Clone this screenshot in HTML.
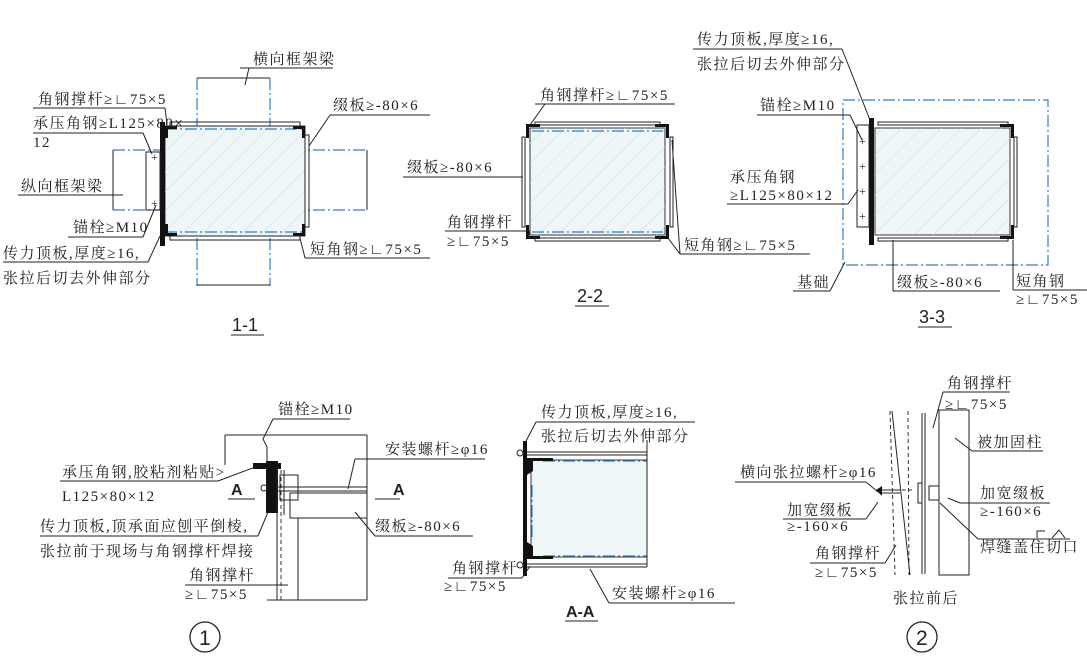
<!DOCTYPE html>
<html><head><meta charset="utf-8"><style>
body{margin:0;background:#fff}
svg{display:block}
text{font-family:"Liberation Serif","Noto Serif CJK SC",serif;font-size:15px;fill:#222;letter-spacing:1.5px}
text.t{font-family:"Liberation Sans",sans-serif;font-size:18px;letter-spacing:0}
text.a{font-family:"Liberation Sans",sans-serif;font-size:16px;font-weight:bold;letter-spacing:0}
text.p{font-size:12px;letter-spacing:0}
text.n{font-family:"Liberation Sans",sans-serif;font-size:21px;letter-spacing:0}
.l{stroke:#222;stroke-width:1;fill:none}
.b{stroke:#2a7fd6;stroke-width:1.2;fill:none;stroke-dasharray:12,3,2,3}
.k{fill:#111}
.col{fill:#eef6f8;stroke:#333;stroke-width:1}
.d{stroke:#333;stroke-width:1;fill:none;stroke-dasharray:4,3}
</style></head><body>
<svg width="1087" height="666" viewBox="0 0 1087 666">
<defs><pattern id="h" width="14" height="14" patternUnits="userSpaceOnUse" patternTransform="rotate(45)"><line x1="0" y1="0" x2="0" y2="14" stroke="#c8dde2" stroke-width="1"/></pattern></defs>

<!-- ===== 1-1 ===== -->
<line class="b" x1="197" y1="78" x2="197" y2="286"/><line class="b" x1="270" y1="78" x2="270" y2="286"/>
<line class="b" x1="113" y1="150" x2="367" y2="150"/><line class="b" x1="113" y1="210" x2="367" y2="210"/>
<line class="l" x1="197" y1="78" x2="270" y2="78" stroke="#888"/><line class="l" x1="197" y1="285" x2="270" y2="285" stroke="#888"/>
<line class="l" x1="113" y1="150" x2="113" y2="210" stroke="#888"/><line class="l" x1="367" y1="150" x2="367" y2="210" stroke="#888"/>
<rect class="col" x="165" y="126" width="140" height="110"/><rect x="165" y="126" width="140" height="110" fill="url(#h)"/>
<line class="b" x1="165" y1="129" x2="305" y2="129"/><line class="b" x1="165" y1="232" x2="305" y2="232"/>
<rect class="k" x="160" y="122" width="5" height="124"/>
<rect class="l" x="146" y="152" width="14" height="58"/>
<path class="k" d="M165 126h12v3h-9v9h-3zM305 126h-12v3h9v9h3zM305 236h-12v-3h9v-9h3zM165 236h12v-3h-9v-9h-3z"/>
<rect class="l" x="170" y="122" width="130" height="4"/><rect class="l" x="170" y="236" width="130" height="4"/>
<rect class="l" x="305" y="135" width="4" height="92"/>
<text class="p" x="151" y="161">+</text><text class="p" x="151" y="207">+</text>
<text x="253" y="64">横向框架梁</text><line class="l" x1="240" y1="68" x2="333" y2="68"/><line class="l" x1="249" y1="68" x2="245" y2="85"/>
<text x="38" y="104">角钢撑杆≥∟75×5</text><line class="l" x1="33" y1="108" x2="165" y2="108"/><line class="l" x1="165" y1="108" x2="167" y2="124"/>
<text x="33" y="128">承压角钢≥L125×80×</text><text x="33" y="147">12</text><line class="l" x1="33" y1="133" x2="143" y2="133"/><line class="l" x1="143" y1="133" x2="152" y2="154"/>
<text x="333" y="110">缀板≥-80×6</text><line class="l" x1="330" y1="115" x2="430" y2="115"/><line class="l" x1="330" y1="115" x2="309" y2="146"/>
<text x="21" y="191">纵向框架梁</text><line class="l" x1="18" y1="195" x2="123" y2="195"/>
<text x="73" y="232">锚栓≥M10</text><line class="l" x1="68" y1="237" x2="143" y2="237"/><line class="l" x1="143" y1="237" x2="156" y2="205"/>
<text x="3" y="258">传力顶板,厚度≥16,</text><line class="l" x1="3" y1="262" x2="148" y2="262"/><line class="l" x1="148" y1="262" x2="160" y2="236"/>
<text x="3" y="283">张拉后切去外伸部分</text>
<text x="310" y="254">短角钢≥∟75×5</text><line class="l" x1="305" y1="258" x2="430" y2="258"/><line class="l" x1="305" y1="258" x2="300" y2="238"/>
<text class="t" x="232" y="331">1-1</text><line class="l" x1="231" y1="335" x2="264" y2="335" stroke-width="1.5"/>

<!-- ===== 2-2 ===== -->
<rect class="col" x="530" y="128" width="135" height="107"/><rect x="530" y="128" width="135" height="107" fill="url(#h)"/>
<line class="b" x1="532" y1="131" x2="663" y2="131"/><line class="b" x1="532" y1="232" x2="663" y2="232"/>
<path class="k" d="M526 124h14v3h-11v11h-3zM669 124h-14v3h11v11h3zM669 239h-14v-3h11v-11h3zM526 239h14v-3h-11v-11h-3z"/>
<rect class="l" x="535" y="122" width="125" height="3"/><rect class="l" x="535" y="238" width="125" height="3"/>
<rect class="l" x="522" y="137" width="3" height="90"/><rect class="l" x="670" y="137" width="3" height="90"/>
<text x="540" y="100">角钢撑杆≥∟75×5</text><line class="l" x1="535" y1="104" x2="675" y2="104"/><line class="l" x1="545" y1="104" x2="530" y2="125"/>
<text x="407" y="172">缀板≥-80×6</text><line class="l" x1="403" y1="177" x2="523" y2="177"/>
<text x="447" y="227">角钢撑杆</text><text x="447" y="246">≥∟75×5</text><line class="l" x1="445" y1="231" x2="530" y2="231"/><line class="l" x1="530" y1="231" x2="528" y2="238"/>
<text x="684" y="250">短角钢≥∟75×5</text><line class="l" x1="680" y1="254" x2="810" y2="254"/><line class="l" x1="680" y1="254" x2="668" y2="238"/>
<line class="l" x1="680" y1="254" x2="672" y2="140"/>
<text class="t" x="577" y="302">2-2</text><line class="l" x1="575" y1="306" x2="609" y2="306" stroke-width="1.5"/>

<!-- ===== 3-3 ===== -->
<rect x="843" y="100" width="205" height="165" class="b"/>
<rect class="col" x="875" y="128" width="135" height="107"/><rect x="875" y="128" width="135" height="107" fill="url(#h)"/>
<path class="k" d="M1014 124h-14v3h11v11h3zM1014 239h-14v-3h11v-11h3z"/>
<rect class="k" x="869" y="118" width="5" height="127"/>
<rect class="l" x="857" y="125" width="12" height="102"/>
<rect class="l" x="878" y="122" width="130" height="3"/><rect class="l" x="878" y="238" width="130" height="3"/>
<rect class="l" x="1014" y="137" width="3" height="90"/>
<text class="p" x="859" y="145">+</text><text class="p" x="859" y="170">+</text><text class="p" x="859" y="195">+</text><text class="p" x="859" y="220">+</text>
<text x="697" y="44">传力顶板,厚度≥16,</text><line class="l" x1="693" y1="49" x2="842" y2="49"/>
<text x="697" y="69">张拉后切去外伸部分</text><line class="l" x1="842" y1="49" x2="870" y2="120"/>
<text x="760" y="110">锚栓≥M10</text><line class="l" x1="757" y1="115" x2="850" y2="115"/><line class="l" x1="850" y1="115" x2="862" y2="140"/>
<text x="730" y="182">承压角钢</text><text x="730" y="200">≥L125×80×12</text><line class="l" x1="727" y1="204" x2="848" y2="204"/><line class="l" x1="848" y1="204" x2="858" y2="190"/>
<text x="797" y="287">基础</text><line class="l" x1="793" y1="291" x2="830" y2="291"/><line class="l" x1="830" y1="291" x2="845" y2="262"/>
<text x="897" y="287">缀板≥-80×6</text><line class="l" x1="893" y1="291" x2="1000" y2="291"/><line class="l" x1="893" y1="291" x2="893" y2="240"/>
<text x="1016" y="286">短角钢</text><text x="1016" y="304">≥∟75×5</text><line class="l" x1="1013" y1="290" x2="1087" y2="290"/><line class="l" x1="1013" y1="290" x2="1013" y2="240"/>
<text class="t" x="919" y="323">3-3</text><line class="l" x1="918" y1="327" x2="952" y2="327" stroke-width="1.5"/>

<!-- ===== Detail 1 ===== -->
<line class="l" x1="225" y1="435" x2="367" y2="435" stroke="#777"/><line class="l" x1="225" y1="435" x2="225" y2="465" stroke="#777"/>
<line class="l" x1="367" y1="435" x2="367" y2="600" stroke="#777"/>
<rect class="k" x="266" y="461" width="12" height="52"/>
<path class="k" d="M253 463h28v6h-28z"/>
<line class="l" x1="277" y1="470" x2="277" y2="600"/><line class="d" x1="281" y1="470" x2="281" y2="600"/>
<line class="l" x1="284" y1="470" x2="284" y2="515"/>
<rect class="l" x="280" y="475" width="18" height="25"/>
<rect class="l" x="290" y="493" width="77" height="25"/>
<line class="l" x1="298" y1="518" x2="298" y2="600"/>
<line class="l" x1="275" y1="487" x2="367" y2="487"/><line class="l" x1="275" y1="491" x2="367" y2="491"/>
<circle cx="264" cy="488" r="3" class="l"/>
<line class="l" x1="267" y1="600" x2="367" y2="600"/>
<text x="278" y="414">锚栓≥M10</text><line class="l" x1="273" y1="419" x2="350" y2="419"/><path class="l" d="M273 419l-10 20 4 8 0 15"/>
<text x="385" y="454">安装螺杆≥φ16</text><line class="l" x1="355" y1="459" x2="485" y2="459"/><line class="l" x1="355" y1="459" x2="348" y2="489"/>
<text x="62" y="477">承压角钢,胶粘剂粘贴&gt;</text><text x="62" y="501">L125×80×12</text><line class="l" x1="60" y1="481" x2="218" y2="481"/><line class="l" x1="218" y1="481" x2="258" y2="466"/>
<text class="a" x="231" y="495">A</text><line class="l" x1="228" y1="499" x2="255" y2="499" stroke-width="1.5"/>
<text class="a" x="393" y="495">A</text><line class="l" x1="375" y1="499" x2="400" y2="499" stroke-width="1.5"/>
<text x="40" y="531">传力顶板,顶承面应刨平倒棱,</text><line class="l" x1="40" y1="536" x2="258" y2="536"/><line class="l" x1="258" y1="536" x2="268" y2="512"/>
<text x="40" y="556">张拉前于现场与角钢撑杆焊接</text>
<text x="375" y="531">缀板≥-80×6</text><line class="l" x1="375" y1="536" x2="473" y2="536"/><line class="l" x1="375" y1="536" x2="355" y2="512"/>
<text x="189" y="580">角钢撑杆</text><line class="l" x1="185" y1="585" x2="288" y2="585"/>
<text x="185" y="599">≥∟75×5</text>
<circle cx="205" cy="637" r="15" fill="none" stroke="#222" stroke-width="1.3"/><text class="n" x="199" y="645">1</text>

<!-- ===== A-A ===== -->
<rect class="col" x="531" y="460" width="116" height="97"/>
<line class="b" x1="543" y1="461" x2="647" y2="461"/><line class="b" x1="543" y1="556" x2="647" y2="556"/><line class="b" x1="532" y1="485" x2="532" y2="540"/>
<rect class="k" x="523" y="441" width="4" height="135"/>
<path class="k" d="M527 458h26v3h-20v10l-6 4zM527 559h26v-3h-20v-10l-6-4z"/>
<line class="l" x1="527" y1="452" x2="647" y2="452"/><line class="l" x1="527" y1="455" x2="647" y2="455"/>
<line class="l" x1="527" y1="564" x2="647" y2="564"/><line class="l" x1="527" y1="567" x2="647" y2="567"/>
<line class="l" x1="647" y1="440" x2="647" y2="567" stroke="#999"/>
<circle cx="520" cy="453" r="3" class="l"/><circle cx="520" cy="565" r="3" class="l"/>
<text x="541" y="417">传力顶板,厚度≥16,</text><line class="l" x1="536" y1="422" x2="695" y2="422"/>
<text x="541" y="441">张拉后切去外伸部分</text><line class="l" x1="536" y1="422" x2="525" y2="443"/>
<text x="452" y="573">角钢撑杆</text><line class="l" x1="448" y1="578" x2="522" y2="578"/><line class="l" x1="522" y1="578" x2="530" y2="566"/>
<text x="444" y="591">≥∟75×5</text>
<text x="612" y="598">安装螺杆≥φ16</text><line class="l" x1="609" y1="603" x2="735" y2="603"/><line class="l" x1="609" y1="603" x2="590" y2="569"/>
<text class="a" x="566" y="617">A-A</text><line class="l" x1="565" y1="621" x2="598" y2="621" stroke-width="1.5"/>

<!-- ===== Detail 2 ===== -->
<line class="d" x1="890" y1="411" x2="895" y2="575"/><line class="d" x1="908" y1="411" x2="909" y2="575"/>
<line class="l" x1="892" y1="411" x2="910" y2="575"/>
<line class="l" x1="922" y1="413" x2="922" y2="574" stroke-width="1.5"/><line class="l" x1="925" y1="413" x2="925" y2="574" stroke-width="1.5"/>
<line class="l" x1="939" y1="410" x2="939" y2="575"/>
<rect class="l" x="939" y="410" width="30" height="165" stroke="#999"/>
<rect class="l" x="918" y="483" width="4" height="20"/>
<rect class="l" x="929" y="486" width="10" height="14"/>
<path class="k" d="M876 490l6-4v10z"/>
<line class="l" x1="882" y1="490" x2="900" y2="490"/><line class="l" x1="882" y1="493" x2="900" y2="493"/>
<line class="d" x1="902" y1="490" x2="912" y2="490"/>
<text x="947" y="388">角钢撑杆</text><line class="l" x1="943" y1="392" x2="1010" y2="392"/><line class="l" x1="943" y1="392" x2="933" y2="428"/>
<text x="945" y="409">≥∟75×5</text>
<text x="977" y="447">被加固柱</text><line class="l" x1="972" y1="451" x2="1043" y2="451"/><line class="l" x1="972" y1="451" x2="955" y2="438"/>
<text x="740" y="477">横向张拉螺杆≥φ16</text><line class="l" x1="735" y1="482" x2="866" y2="482"/><line class="l" x1="866" y1="482" x2="878" y2="492"/>
<text x="787" y="515">加宽缀板</text><line class="l" x1="783" y1="519" x2="866" y2="519"/><line class="l" x1="866" y1="519" x2="878" y2="502"/>
<text x="787" y="531">≥-160×6</text>
<text x="980" y="498">加宽缀板</text><line class="l" x1="960" y1="503" x2="1050" y2="503"/><line class="l" x1="960" y1="503" x2="948" y2="498"/>
<text x="980" y="516">≥-160×6</text>
<text x="980" y="552">焊缝盖住切口</text><line class="l" x1="978" y1="539" x2="1070" y2="539"/><line class="l" x1="978" y1="539" x2="940" y2="503"/>
<path class="l" d="M1037 538v-7h8M1052 538l7-8 6 8"/>
<text x="815" y="558">角钢撑杆</text><line class="l" x1="810" y1="563" x2="885" y2="563"/><line class="l" x1="885" y1="563" x2="896" y2="545"/>
<text x="815" y="577">≥∟75×5</text>
<text x="893" y="603">张拉前后</text>
<circle cx="922" cy="637" r="15" fill="none" stroke="#222" stroke-width="1.3"/><text class="n" x="916" y="645">2</text>
</svg>
</body></html>
